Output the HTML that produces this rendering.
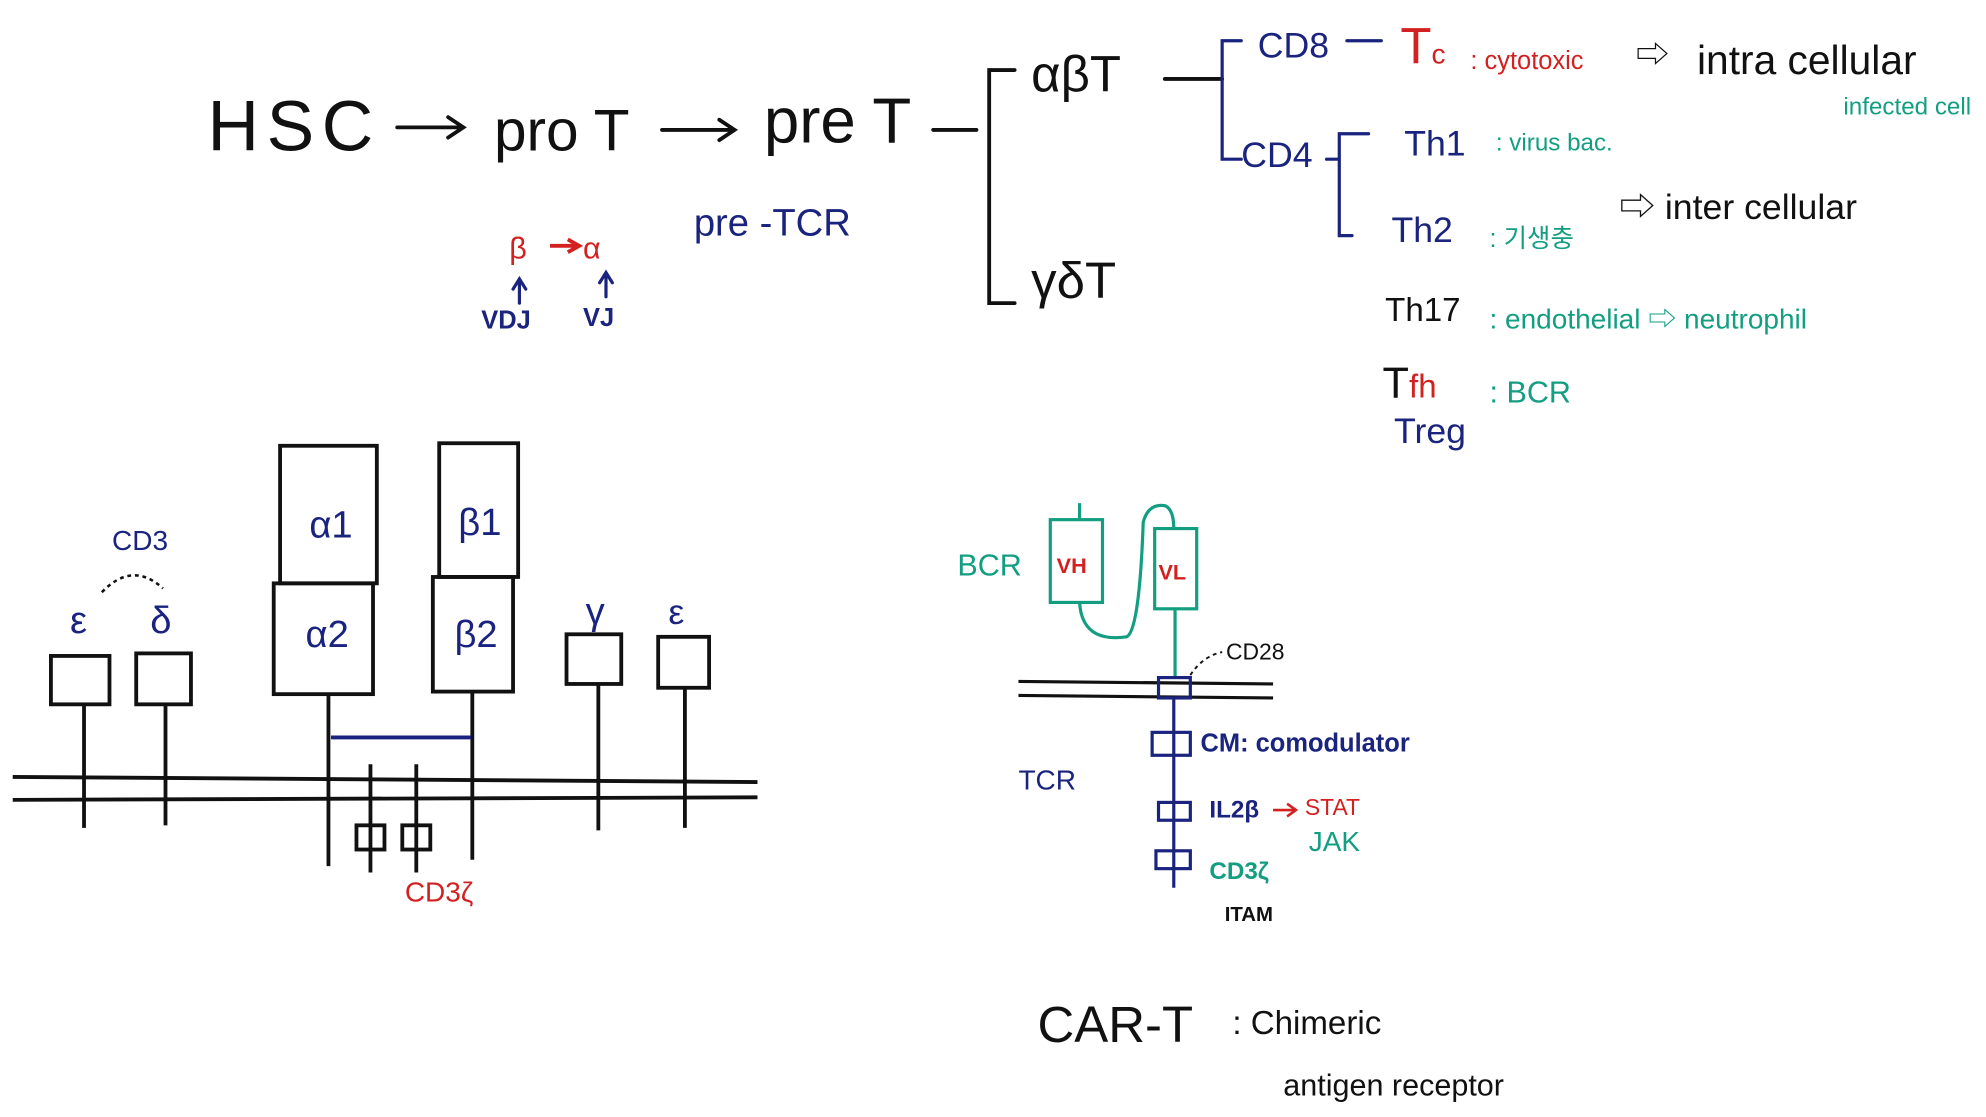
<!DOCTYPE html>
<html><head><meta charset="utf-8"><style>
html,body{margin:0;padding:0;background:#fff;}
svg{display:block}
text{font-family:"Liberation Sans","Noto Sans CJK KR",sans-serif;}
.k{fill:#111}.n{fill:#1a237e}.r{fill:#d32020}.t{fill:#139e82}
</style></head><body>
<svg width="1986" height="1117" viewBox="0 0 1560 877" preserveAspectRatio="none" xmlns="http://www.w3.org/2000/svg">
<g fill="none" stroke="#111" stroke-width="3" stroke-linecap="round">
<path d="M312 100H363M352 92L364 100L352 108"/>
<path d="M520 102H576M565 94L577 102L565 110"/>
<path d="M733 102H767"/>
<path d="M797 55H777V238H797"/>
<path d="M915 62H960"/>
</g>
<g fill="none" stroke="#1a237e" stroke-width="2.5" stroke-linecap="round">
<path d="M975 32H960V125H975"/>
<path d="M1058 32H1085"/>
<path d="M1042 125H1052M1075 105H1052V185H1062"/>
<path d="M408 238V220M403 227L408 219L413 227"/>
<path d="M476 233V215M471 222L476 214L481 222"/>
</g>
<path d="M432 193H452M446 188L455 193L446 198" stroke="#d32020" stroke-width="3" fill="none"/>
<text x="163" y="118" font-size="56" letter-spacing="6" class="k">HSC</text>
<text x="388" y="118" font-size="46" class="k">pro T</text>
<text x="600" y="112" font-size="50" class="k">pre T</text>
<text x="810" y="72" font-size="40" class="k">αβT</text>
<text x="810" y="234" font-size="40" class="k">γδT</text>
<text x="988" y="45" font-size="28" class="n">CD8</text>
<text x="1100" y="50" font-size="40" class="r">T<tspan font-size="22">c</tspan></text>
<text x="1155" y="54" font-size="20" class="r">: cytotoxic</text>
<text x="1285" y="52" font-size="26" class="k">⇨</text>
<text x="1333" y="58" font-size="32" class="k">intra cellular</text>
<text x="1448" y="90" font-size="19" class="t">infected cell</text>
<text x="975" y="131" font-size="28" class="n">CD4</text>
<text x="1103" y="122" font-size="28" class="n">Th1</text>
<text x="1175" y="118" font-size="19" class="t">: virus  bac.</text>
<text x="1093" y="190" font-size="28" class="n">Th2</text>
<text x="1170" y="194" font-size="20" class="t">: 기생충</text>
<text x="1272" y="172" font-size="28" class="k">⇨ inter cellular</text>
<text x="1088" y="252" font-size="26" class="k">Th17</text>
<text x="1170" y="258" font-size="22" class="t">:  endothelial ⇨ neutrophil</text>
<text x="1086" y="312" font-size="34" class="k">T<tspan class="r" font-size="26">fh</tspan></text>
<text x="1170" y="316" font-size="24" class="t">:  BCR</text>
<text x="1095" y="348" font-size="28" class="n">Treg</text>
<text x="545" y="185" font-size="30" class="n">pre -TCR</text>
<text x="400" y="203" font-size="24" class="r">β</text>
<text x="458" y="203" font-size="24" class="r">α</text>
<text x="378" y="258" font-size="20" class="n" font-weight="bold">VDJ</text>
<text x="458" y="256" font-size="20" class="n" font-weight="bold">VJ</text>
<g fill="none" stroke="#111" stroke-width="3">
<path d="M10 610L595 614M10 628L595 626"/>
<rect x="40" y="515" width="46" height="38"/><rect x="107" y="513" width="43" height="40"/>
<path d="M66 553V650M130 553V648"/>
<rect x="220" y="350" width="76" height="108"/><rect x="215" y="458" width="78" height="87"/>
<rect x="345" y="348" width="62" height="105"/><rect x="340" y="453" width="63" height="90"/>
<path d="M258 545V680M371 543V675"/>
<path d="M291 600V685M327 600V685"/>
<rect x="280" y="648" width="22" height="19"/><rect x="316" y="648" width="22" height="19"/>
<rect x="445" y="498" width="43" height="39"/><rect x="517" y="500" width="40" height="40"/>
<path d="M470 537V652M538 540V650"/>
</g>
<path d="M260 579H370" stroke="#1a237e" stroke-width="3"/>
<path d="M80 465Q104 440 128 462" stroke="#111" stroke-width="2" stroke-dasharray="3 3" fill="none"/>
<text x="88" y="432" font-size="22" class="n">CD3</text>
<text x="55" y="497" font-size="30" class="n">ε</text>
<text x="118" y="497" font-size="30" class="n">δ</text>
<text x="243" y="422" font-size="30" class="n">α1</text>
<text x="240" y="508" font-size="30" class="n">α2</text>
<text x="360" y="420" font-size="30" class="n">β1</text>
<text x="357" y="508" font-size="30" class="n">β2</text>
<text x="460" y="490" font-size="30" class="n">γ</text>
<text x="525" y="490" font-size="28" class="n">ε</text>
<text x="318" y="708" font-size="22" class="r">CD3ζ</text>
<g fill="none" stroke="#139e82" stroke-width="2.5">
<rect x="825" y="408" width="41" height="65"/><rect x="907" y="415" width="33" height="63"/>
<path d="M848 408V395M848 473Q850 505 885 500Q895 495 898 410Q902 395 915 397Q922 400 922 415"/>
<path d="M923 478V532"/>
</g>
<text x="830" y="450" font-size="17" class="r" font-weight="bold">VH</text>
<text x="910" y="455" font-size="17" class="r" font-weight="bold">VL</text>
<text x="752" y="452" font-size="24" class="t">BCR</text>
<g fill="none" stroke="#111" stroke-width="2.5">
<path d="M800 535L1000 537M800 546L1000 548"/>
</g>
<g fill="none" stroke="#1a237e" stroke-width="2.5">
<rect x="910" y="532" width="25" height="16"/>
<path d="M922 548V697"/>
<rect x="905" y="575" width="30" height="18"/><rect x="910" y="630" width="25" height="14"/><rect x="908" y="668" width="27" height="14"/>
</g>
<path d="M935 530Q945 515 960 512" stroke="#111" stroke-width="1.5" stroke-dasharray="3 3" fill="none"/>
<text x="963" y="518" font-size="18" class="k">CD28</text>
<text x="943" y="590" font-size="20" class="n" font-weight="bold">CM: comodulator</text>
<text x="950" y="642" font-size="19" class="n" font-weight="bold">IL2β</text>
<path d="M1000 636H1017M1011 631L1018 636L1011 641" stroke="#d32020" stroke-width="2" fill="none"/>
<text x="1025" y="640" font-size="18" class="r">STAT</text>
<text x="1028" y="668" font-size="22" class="t">JAK</text>
<text x="950" y="690" font-size="19" class="t" font-weight="bold">CD3ζ</text>
<text x="962" y="723" font-size="16" class="k" font-weight="bold">ITAM</text>
<text x="800" y="620" font-size="22" class="n">TCR</text>
<text x="815" y="818" font-size="40" class="k">CAR-T</text>
<text x="968" y="812" font-size="26" class="k">: Chimeric</text>
<text x="1008" y="860" font-size="24" class="k">antigen receptor</text>
</svg>
</body></html>
